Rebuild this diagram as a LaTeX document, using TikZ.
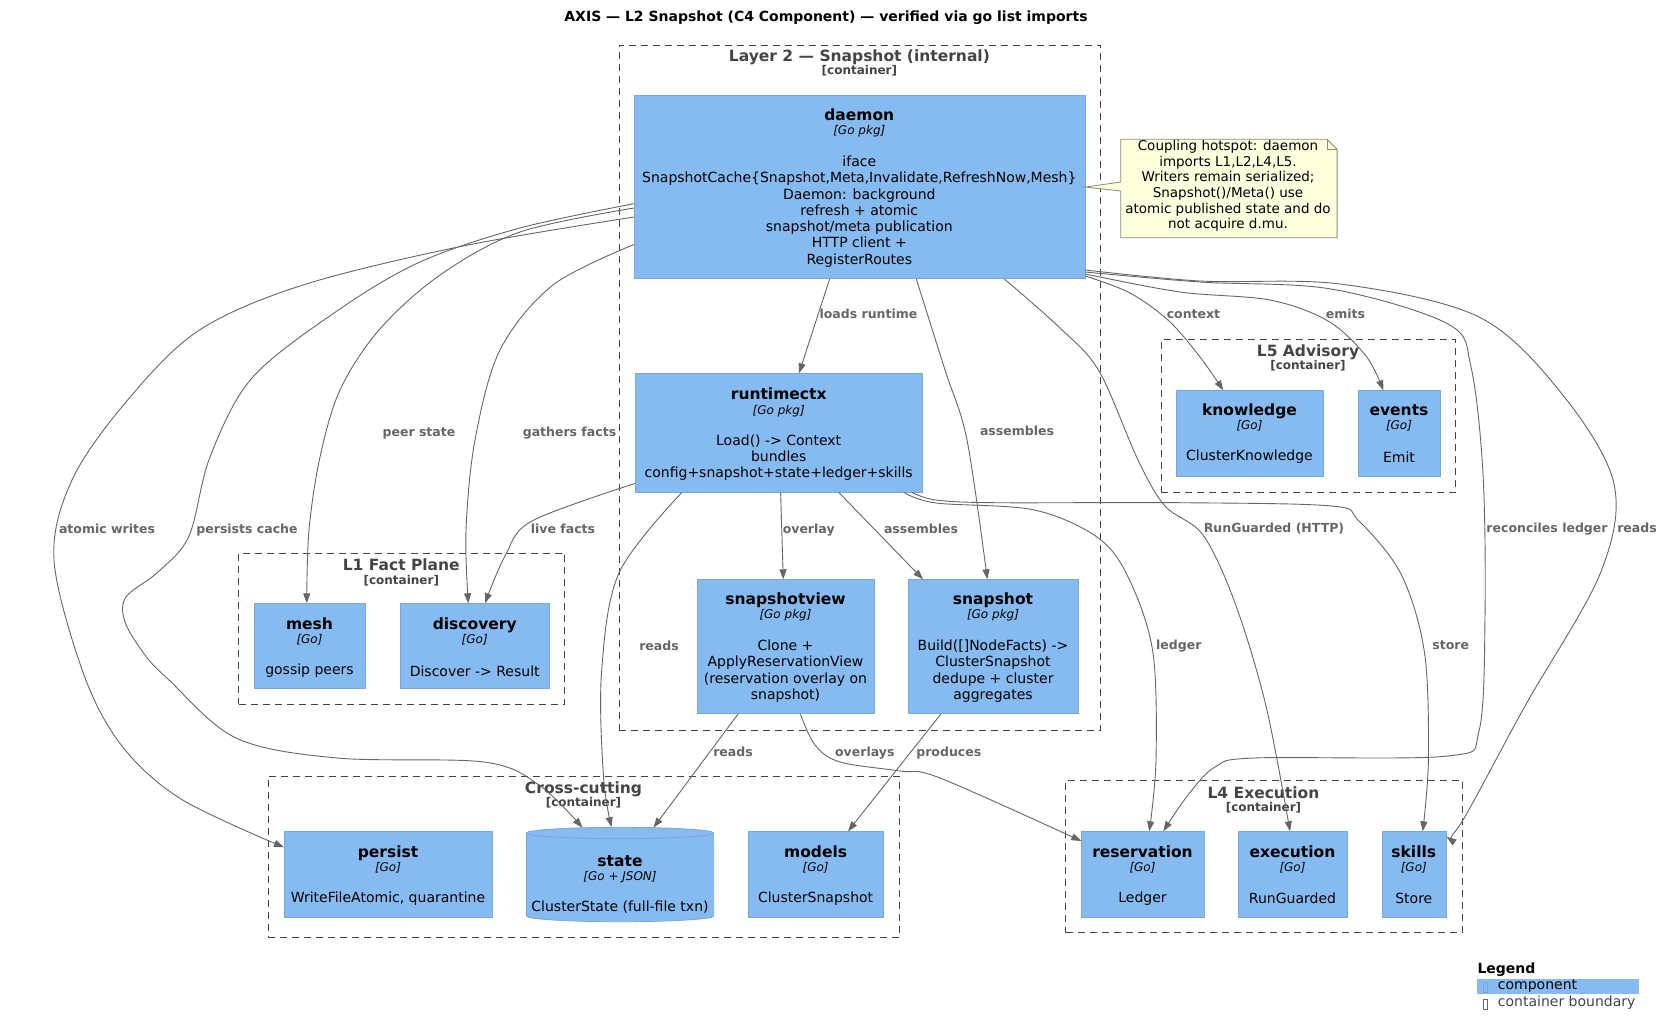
\documentclass[tikz,border=0pt]{standalone}
\usepackage{fontspec}
\setmainfont{DejaVu Sans}
\usetikzlibrary{arrows.meta,calc}
\definecolor{compfill}{HTML}{85BBF0}
\definecolor{compline}{HTML}{78A8D8}
\definecolor{edgec}{HTML}{666666}
\definecolor{boundc}{HTML}{444444}
\definecolor{notefill}{HTML}{FEFFDD}
\definecolor{noteline}{HTML}{8C8C7A}
\begin{document}
\begin{tikzpicture}[x=1pt,y=-1pt,
  comp/.style={draw=compline,fill=compfill,line width=0.8pt,inner sep=0pt,anchor=north west},
  bound/.style={draw=boundc,line width=0.9pt,dash pattern=on 7pt off 5pt,inner sep=0pt,anchor=north west},
  ttl/.style={font=\fontsize{15.5}{18}\selectfont\bfseries,text height=11.5pt,text depth=0pt,inner sep=0pt},
  tech/.style={font=\fontsize{12}{14}\selectfont\itshape,text height=9pt,text depth=2pt,inner sep=0pt},
  desc/.style={font=\fontsize{14}{16.3}\selectfont,align=center,inner sep=0pt},
  elab/.style={font=\fontsize{12.5}{15}\selectfont\bfseries,text=edgec,text height=9pt,text depth=2pt,inner sep=0pt},
  btitle/.style={font=\fontsize{15.5}{18}\selectfont\bfseries,text=boundc,text height=11.5pt,text depth=0pt,inner sep=0pt},
  bsub/.style={font=\fontsize{12}{14}\selectfont\bfseries,text=boundc,text height=9pt,text depth=2pt,inner sep=0pt},
  edge/.style={draw=edgec,line width=0.9pt,-{Triangle[length=10pt,width=7pt]}},
  smoothp/.style={smooth,tension=0.55}
]
\useasboundingbox (0,0) rectangle (1668,1036);
\fill[white] (0,0) rectangle (1668,1036);

% title
\node[font=\fontsize{14}{16}\selectfont\bfseries,inner sep=0pt] (title) at (826,18) {AXIS — L2 Snapshot (C4 Component) — verified via go list imports};

% boundaries
\node[bound,minimum width=481.8pt,minimum height=685.5pt] (layer2) at (618.5,44.5) {};
\node[bound,minimum width=326pt,minimum height=151.3pt] (l1) at (238.3,552.7) {};
\node[bound,minimum width=294.3pt,minimum height=152.7pt] (l5) at (1161,339.3) {};
\node[bound,minimum width=396.4pt,minimum height=152.3pt] (l4) at (1065.3,780) {};
\node[bound,minimum width=631.8pt,minimum height=160.7pt] (cross) at (267.6,776) {};

\node[btitle] (layer2t) at (859.4,55.3) {Layer 2 — Snapshot (internal)};
\node[bsub] (layer2s) at (859.4,71) {[container]};
\node[btitle] (l1t) at (401.3,564.3) {L1 Fact Plane};
\node[bsub] (l1s) at (401.3,580.7) {[container]};
\node[btitle] (l5t) at (1308,350.7) {L5 Advisory};
\node[bsub] (l5s) at (1308,366) {[container]};
\node[btitle] (l4t) at (1263.5,792.3) {L4 Execution};
\node[bsub] (l4s) at (1263.5,808.3) {[container]};
\node[btitle] (crosst) at (583.5,787.3) {Cross-cutting};
\node[bsub] (crosss) at (583.5,803.3) {[container]};

% components
\node[comp,minimum width=450.5pt,minimum height=183.3pt] (daemon) at (634,95) {};
\node[comp,minimum width=287.3pt,minimum height=118.4pt] (runtimectx) at (635,373.3) {};
\node[comp,minimum width=176.4pt,minimum height=134pt] (snapshotview) at (697.3,579.3) {};
\node[comp,minimum width=169.4pt,minimum height=134pt] (snapshot) at (908.3,579.3) {};
\node[comp,minimum width=110.4pt,minimum height=85pt] (mesh) at (254.3,603.3) {};
\node[comp,minimum width=149.3pt,minimum height=85pt] (discovery) at (400,603.3) {};
\node[comp,minimum width=146.4pt,minimum height=85.4pt] (knowledge) at (1176.3,390.3) {};
\node[comp,minimum width=81.4pt,minimum height=85.4pt] (events) at (1358.3,390.3) {};
\node[comp,minimum width=122.4pt,minimum height=85.4pt] (reservation) at (1081.3,831.3) {};
\node[comp,minimum width=108.4pt,minimum height=85.4pt] (execution) at (1238.3,831.3) {};
\node[comp,minimum width=63.7pt,minimum height=85.4pt] (skills) at (1382,831.3) {};
\node[comp,minimum width=208pt,minimum height=85.4pt] (persist) at (284,831.3) {};
\node[comp,minimum width=135.6pt,minimum height=85.4pt] (models) at (747.8,831.3) {};
\node[inner sep=0pt,minimum width=187.3pt,minimum height=94.4pt] (state) at (620,874.5) {};
\filldraw[fill=compfill,draw=compline,line width=0.8pt]
  (526.4,833) -- (526.4,916) arc[start angle=180,end angle=360,x radius=93.65pt,y radius=5.7pt]
  -- (713.7,833) arc[start angle=0,end angle=180,x radius=93.65pt,y radius=5.7pt] -- cycle;
\draw[draw=compline,line width=0.8pt] (526.4,833) arc[start angle=180,end angle=360,x radius=93.65pt,y radius=5.7pt];

% component texts
\node[ttl] (daemon-t) at (859.3,114.3) {daemon};
\node[tech] (daemon-k) at (859.3,130.7) {[Go pkg]};
\node[desc] (daemon-d) at (859.3,211.5) {iface\\SnapshotCache\{Snapshot,Meta,Invalidate,RefreshNow,Mesh\}\\Daemon: background\\refresh + atomic\\snapshot/meta publication\\HTTP client +\\RegisterRoutes};

\node[ttl] (runtimectx-t) at (778.7,393.3) {runtimectx};
\node[tech] (runtimectx-k) at (778.7,410.7) {[Go pkg]};
\node[desc] (runtimectx-d) at (778.7,457.5) {Load() -> Context\\bundles\\config+snapshot+state+ledger+skills};

\node[ttl] (snapshotview-t) at (785.5,599) {snapshotview};
\node[tech] (snapshotview-k) at (785.5,615) {[Go pkg]};
\node[desc] (snapshotview-d) at (785.5,671) {Clone +\\ApplyReservationView\\(reservation overlay on\\snapshot)};

\node[ttl] (snapshot-t) at (993,599) {snapshot};
\node[tech] (snapshot-k) at (993,615) {[Go pkg]};
\node[desc] (snapshot-d) at (993,671) {Build([]NodeFacts) ->\\ClusterSnapshot\\dedupe + cluster\\aggregates};

\node[ttl] (mesh-t) at (309.5,623.3) {mesh};
\node[tech] (mesh-k) at (309.5,640) {[Go]};
\node[desc] (mesh-d) at (309.5,671) {gossip peers};

\node[ttl] (discovery-t) at (474.7,623.3) {discovery};
\node[tech] (discovery-k) at (474.7,640) {[Go]};
\node[desc] (discovery-d) at (474.7,671) {Discover -> Result};

\node[ttl] (knowledge-t) at (1249.5,409.3) {knowledge};
\node[tech] (knowledge-k) at (1249.5,426.3) {[Go]};
\node[desc] (knowledge-d) at (1249.5,457) {ClusterKnowledge};

\node[ttl] (events-t) at (1399,409.3) {events};
\node[tech] (events-k) at (1399,426.3) {[Go]};
\node[desc] (events-d) at (1399,457) {Emit};

\node[ttl] (reservation-t) at (1142.5,851.3) {reservation};
\node[tech] (reservation-k) at (1142.5,867.7) {[Go]};
\node[desc] (reservation-d) at (1142.5,898.7) {Ledger};

\node[ttl] (execution-t) at (1292.5,851.3) {execution};
\node[tech] (execution-k) at (1292.5,867.7) {[Go]};
\node[desc] (execution-d) at (1292.5,898.7) {RunGuarded};

\node[ttl] (skills-t) at (1413.8,851.3) {skills};
\node[tech] (skills-k) at (1413.8,867.7) {[Go]};
\node[desc] (skills-d) at (1413.8,898.7) {Store};

\node[ttl] (persist-t) at (388,851.3) {persist};
\node[tech] (persist-k) at (388,867.7) {[Go]};
\node[desc] (persist-d) at (388,898.7) {WriteFileAtomic, quarantine};

\node[ttl] (state-t) at (620,860.7) {state};
\node[tech] (state-k) at (620,877.3) {[Go + JSON]};
\node[desc] (state-d) at (620,907.3) {ClusterState (full-file txn)};

\node[ttl] (models-t) at (815.6,851.3) {models};
\node[tech] (models-k) at (815.6,867.7) {[Go]};
\node[desc] (models-d) at (815.6,898.7) {ClusterSnapshot};

% note
\node[inner sep=0pt,minimum width=216pt,minimum height=98pt,anchor=north west] (notebox) at (1120.7,139.3) {};
\filldraw[fill=notefill,draw=noteline,line width=0.8pt]
  (notebox.north west) -- ($(notebox.north east)+(-10,0)$) -- ($(notebox.north east)+(0,10)$)
  -- (notebox.south east) -- (notebox.south west) -- ($(notebox.north west)+(0,51.7)$)
  -- (daemon.east) -- ($(notebox.north west)+(0,42.7)$) -- cycle;
\draw[draw=noteline,line width=0.8pt] ($(notebox.north east)+(-10,0)$) -- ($(notebox.north east)+(-10,10)$) -- ($(notebox.north east)+(0,10)$);
\node[font=\fontsize{13.5}{15.6}\selectfont,align=center,inner sep=0pt] (note) at (1228,186) {Coupling hotspot: daemon\\imports L1,L2,L4,L5.\\Writers remain serialized;\\Snapshot()/Meta() use\\atomic published state and do\\not acquire d.mu.};

% connector end points
\coordinate (dPC) at ($(daemon.north west)+(0,108.7)$);
\coordinate (dPS) at ($(daemon.north west)+(0,113)$);
\coordinate (dAW) at ($(daemon.north west)+(0,122)$);
\coordinate (dGF) at ($(daemon.north west)+(0,149.5)$);
\coordinate (dLR) at ($(daemon.south west)+(195.6,0)$);
\coordinate (dAS) at ($(daemon.south west)+(282.3,0)$);
\coordinate (dRG) at ($(daemon.south west)+(370.5,0)$);
\coordinate (dRS) at ($(daemon.north east)+(0,175)$);
\coordinate (dRL) at ($(daemon.north east)+(0,177)$);
\coordinate (dEM) at ($(daemon.north east)+(0,179)$);
\coordinate (dCX) at ($(daemon.north east)+(0,181)$);
\coordinate (rTop) at ($(runtimectx.north west)+(164,0)$);
\coordinate (rLF) at ($(runtimectx.south west)+(0,-9)$);
\coordinate (rRd) at ($(runtimectx.south west)+(46.8,0)$);
\coordinate (rOv) at ($(runtimectx.south west)+(145.6,0)$);
\coordinate (rAs) at ($(runtimectx.south west)+(203.8,0)$);
\coordinate (rLd) at ($(runtimectx.south west)+(269,0)$);
\coordinate (rSt) at ($(runtimectx.south west)+(277,0)$);
\coordinate (svTop) at ($(snapshotview.north west)+(86,0)$);
\coordinate (svRd) at ($(snapshotview.south west)+(40.7,0)$);
\coordinate (svOv) at ($(snapshotview.south west)+(103.1,0)$);
\coordinate (snA1) at ($(snapshot.north west)+(14.7,0)$);
\coordinate (snA2) at ($(snapshot.north west)+(79,0)$);
\coordinate (snPr) at ($(snapshot.south west)+(32.5,0)$);
\coordinate (meTop) at ($(mesh.north west)+(52.4,0)$);
\coordinate (diG) at ($(discovery.north west)+(68.3,0)$);
\coordinate (diL) at ($(discovery.north west)+(85,0)$);
\coordinate (knT) at ($(knowledge.north west)+(47,0)$);
\coordinate (evT) at ($(events.north west)+(25,0)$);
\coordinate (reL) at ($(reservation.north west)+(68,0)$);
\coordinate (reR) at ($(reservation.north west)+(82,0)$);
\coordinate (reO) at ($(reservation.north west)+(0,9.7)$);
\coordinate (exT) at ($(execution.north west)+(51.7,0)$);
\coordinate (skT) at ($(skills.north west)+(40.7,0)$);
\coordinate (skR) at ($(skills.north east)+(0,5.4)$);
\coordinate (peL) at ($(persist.north west)+(0,16)$);
\coordinate (stP) at ($(state.north)+(-37.6,0.5)$);
\coordinate (stR1) at ($(state.north)+(-8.5,0)$);
\coordinate (stR2) at ($(state.north)+(33.5,0.5)$);
\coordinate (moT) at ($(models.north west)+(100.2,0)$);

% connectors
\draw[edge] plot[smoothp] coordinates {(dAW) (463,246) (303,285) (198,331) (126,402) (72,480) (54,560) (84,675) (122,746) (181,799) (peL)};
\draw[edge] plot[smoothp] coordinates {(dPC) (520,228) (420,262) (337,311) (252,378) (210,457) (189,536) (158,572) (126,597) (125,622) (145,655) (168,679) (236,738) (337,758) (484,762) (539,785) (stP)};
\draw[edge] plot[smoothp] coordinates {(dPS) (520,232) (440,275) (379,330) (340,390) (320,457) (309,530) (meTop)};
\draw[edge] plot[smoothp] coordinates {(dGF) (553,285) (500,350) (475,440) (466,530) (diG)};
\draw[edge] plot[smoothp] coordinates {(rLF) (532,521) (505,556) (diL)};
\draw[edge] (dLR) -- (rTop);
\draw[edge] plot[smoothp] coordinates {(dAS) (945,370) (967,440) (snA2)};
\draw[edge] plot[smoothp] coordinates {(dRG) (1060,328) (1099,371) (1138,460) (1165,506) (1203,535) (1235,603) (1266,706) (exT)};
\draw[edge] plot[smoothp] coordinates {(dCX) (1130,293) (1169,321) (1200,357) (knT)};
\draw[edge] plot[smoothp] coordinates {(dEM) (1180,292) (1270,300) (1328,321) (1366,356) (evT)};
\draw[edge] plot[smoothp] coordinates {(dRL) (1200,282) (1331,289) (1448,324) (1471,367) (1483,474) (1485,617) (1479,731) (1448,756) (1254,758) (1215,767) (1188,795) (reR)};
\draw[edge] plot[smoothp] coordinates {(dRS) (1200,281) (1340,284) (1479,317) (1562,394) (1614,484) (1600,574) (1525,706) (1463,820) (skR)};
\draw[edge] plot[smoothp] coordinates {(rSt) (936,500) (995,502.7) (1180,502.7) (1331.5,506) (1358.6,520.6) (1401,574) (1424.5,652.7) (1428.4,759.8) (skT)};
\draw[edge] plot[smoothp] coordinates {(rLd) (936,503) (1034.5,510) (1099,538.5) (1130,581) (1153,653) (1156,760) (reL)};
\draw[edge] plot[smoothp] coordinates {(rRd) (619,573) (601.5,673) (603.5,777) (stR1)};
\draw[edge] (rOv) -- (svTop);
\draw[edge] (rAs) -- (snA1);
\draw[edge] (svRd) -- (stR2);
\draw[edge] plot[smoothp] coordinates {(svOv) (815,745) (840,762) (900,771) (940,778) (reO)};
\draw[edge] (snPr) -- (moT);

% connector labels
\node[elab] (lb-loads) at (868.5,315) {loads runtime};
\node[elab] (lb-as1) at (1017,432) {assembles};
\node[elab] (lb-rg) at (1274,529) {RunGuarded (HTTP)};
\node[elab] (lb-cx) at (1193.5,315) {context};
\node[elab] (lb-em) at (1345.5,315) {emits};
\node[elab] (lb-rl) at (1547,529) {reconciles ledger};
\node[elab] (lb-rs) at (1637,529) {reads};
\node[elab] (lb-lf) at (563,530) {live facts};
\node[elab] (lb-ps) at (419,432.5) {peer state};
\node[elab] (lb-gf) at (569.5,432.5) {gathers facts};
\node[elab] (lb-aw) at (107,530) {atomic writes};
\node[elab] (lb-pc) at (247,530) {persists cache};
\node[elab] (lb-rd1) at (659,646.7) {reads};
\node[elab] (lb-ov) at (808.7,530) {overlay};
\node[elab] (lb-as2) at (921,530) {assembles};
\node[elab] (lb-ld) at (1178.8,646.3) {ledger};
\node[elab] (lb-st) at (1450.7,646.3) {store};
\node[elab] (lb-rd2) at (733,752.7) {reads};
\node[elab] (lb-ovs) at (864.8,752.7) {overlays};
\node[elab] (lb-pr) at (948.8,752.7) {produces};

% legend
\node[font=\fontsize{14}{16}\selectfont\bfseries,anchor=west,inner sep=0pt] (legend) at (1477.3,970) {Legend};
\node[fill=compfill,anchor=north west,minimum width=162.3pt,minimum height=15.6pt,inner sep=0pt] (legcomp) at (1476.7,978.5) {};
\node[draw=compline,line width=0.6pt,anchor=north west,minimum width=4pt,minimum height=10pt,inner sep=0pt] (legcompg) at (1482.5,982) {};
\node[font=\fontsize{14}{16}\selectfont,anchor=west,inner sep=0pt] (legcompt) at (1497.7,986.5) {component};
\node[draw=edgec,line width=0.6pt,anchor=north west,minimum width=4pt,minimum height=10pt,inner sep=0pt] (legboundg) at (1482.5,998.5) {};
\node[font=\fontsize{14}{16}\selectfont,text=boundc,anchor=west,inner sep=0pt] (legboundt) at (1497.7,1003) {container boundary};
\end{tikzpicture}
\end{document}
